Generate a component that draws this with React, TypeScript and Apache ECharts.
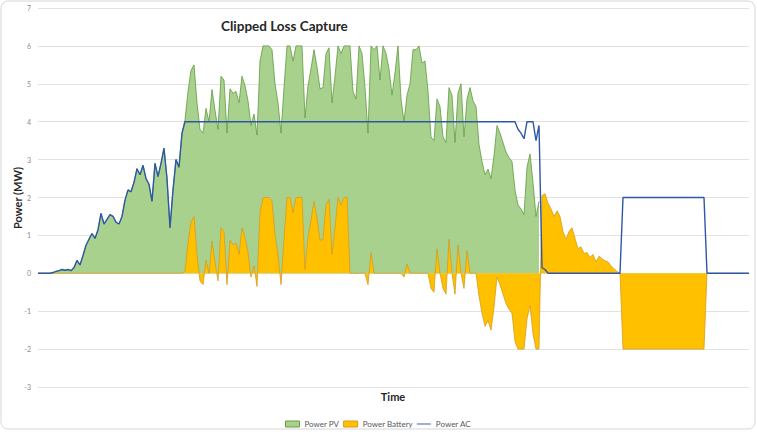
import { useEffect, useRef } from 'react';
import * as echarts from 'echarts';

// Power PV (MW), one sample per time step
const pvPower: (number | null)[] = [
  0, 0, 0, 0, 0, 0.02, 0.05, 0.07, 0.1, 0.08,
  0.1, 0.07, 0.15, 0.34, 0.22, 0.47, 0.74, 0.9, 1.05, 0.92,
  1.15, 1.58, 1.3, 1.42, 1.55, 1.5, 1.35, 1.3, 1.5, 1.93,
  2.2, 2.15, 2.4, 2.76, 2.6, 2.85, 2.5, 2.35, 1.9, 2.9,
  2.55, 2.9, 3.3, 2.5, 1.2, 2.2, 3.0, 2.8, 3.7, 4.05,
  4.8, 5.35, 5.5, 4.5, 3.8, 3.7, 4.35, 4.0, 4.85, 4.3,
  3.8, 5.2, 5.1, 3.7, 4.87, 4.75, 4.8, 4.5, 5.2, 4.95,
  4.55, 3.9, 4.2, 3.65, 5.6, 6, 6, 6, 5.9, 5.0,
  4.5, 3.7, 4.9, 6, 6, 5.6, 6, 6, 6, 4.1,
  4.95, 5.4, 5.9, 5.45, 4.87, 4.9, 5.8, 5.95, 4.5, 5.2,
  6, 5.8, 6, 6, 6, 4.8, 4.6, 6, 5.8, 4.9,
  3.7, 6, 5.9, 6, 5.1, 6, 5.8, 5.4, 4.7, 5.3,
  6, 4.6, 4.0, 4.7, 5.0, 5.9, 5.9, 6, 5.55, 5.6,
  4.8, 3.6, 3.5, 4.6, 4.4, 3.6, 3.45, 4.9, 4.7, 3.45,
  4.75, 5.0, 3.6, 4.6, 4.9, 4.55, 4.4, 3.4, 2.95, 2.6,
  2.75, 2.5, 3.1, 3.9, 3.7, 3.45, 3.2, 3.05, 2.95, 2.2,
  1.8, 1.7, 1.55, 2.8, 3.15, 2.4, 1.5, 1.9, null, null,
  null, null, null, null, null, null, null, null, null, null,
  null, null, null, null, null, null, null, null, null, null,
  null, null, null, null, null, null, null, null, null, null,
  null, null, null, null, null, null, null, null, null, null,
  null, null, null, null, null, null, null, null, null, null,
  null, null, null, null, null, null, null, null, null, null,
  null, null, null, null, null, null, null, null,
];

// Power Battery (MW)
const batteryPower: number[] = [
  0, 0, 0, 0, 0, 0, 0, 0, 0, 0,
  0, 0, 0, 0, 0, 0, 0, 0, 0, 0,
  0, 0, 0, 0, 0, 0, 0, 0, 0, 0,
  0, 0, 0, 0, 0, 0, 0, 0, 0, 0,
  0, 0, 0, 0, 0, 0, 0, 0, 0, 0.05,
  0.8, 1.35, 1.5, 0.5, -0.2, -0.3, 0.35, 0, 0.85, 0.3,
  -0.2, 1.2, 1.1, -0.3, 0.87, 0.75, 0.8, 0.5, 1.2, 0.95,
  0.55, -0.1, 0.2, -0.35, 1.6, 2, 2, 2, 1.9, 1.0,
  0.5, -0.3, 0.9, 2, 2, 1.6, 2, 2, 2, 0.1,
  0.95, 1.4, 1.9, 1.45, 0.87, 0.9, 1.8, 1.95, 0.5, 1.2,
  2, 1.8, 2, 2, 0, 0, 0, 0, 0, 0,
  -0.3, 0.55, 0, 0, 0, 0, 0, 0, 0, 0,
  0, 0, -0.1, 0.25, 0, 0, 0, 0, 0, 0,
  0, -0.4, -0.5, 0.65, 0, -0.4, -0.55, 0.9, 0, -0.55,
  0.75, 0, -0.4, 0.6, 0, 0, 0, -0.6, -1.05, -1.4,
  -1.25, -1.5, -0.9, -0.1, -0.3, -0.55, -0.8, -0.95, -1.05, -1.8,
  -2, -2, -2, -1.2, -0.85, -1.6, -2, -2, 2.05, 2.1,
  1.85, 1.7, 1.5, 1.65, 1.5, 1.1, 0.9, 1.1, 1.2, 0.92,
  0.65, 0.7, 0.52, 0.55, 0.42, 0.5, 0.3, 0.45, 0.38, 0.33,
  0.3, 0.2, 0.12, 0.05, 0, -2, -2, -2, -2, -2,
  -2, -2, -2, -2, -2, -2, -2, -2, -2, -2,
  -2, -2, -2, -2, -2, -2, -2, -2, -2, -2,
  -2, -2, -2, 0, 0, 0, 0, 0, 0, 0,
  0, 0, 0, 0, 0, 0, 0, 0,
];

// Power AC (MW)
const acPower: number[] = [
  0, 0, 0, 0, 0, 0.02, 0.05, 0.07, 0.1, 0.08,
  0.1, 0.07, 0.15, 0.34, 0.22, 0.47, 0.74, 0.9, 1.05, 0.92,
  1.15, 1.58, 1.3, 1.42, 1.55, 1.5, 1.35, 1.3, 1.5, 1.93,
  2.2, 2.15, 2.4, 2.76, 2.6, 2.85, 2.5, 2.35, 1.9, 2.9,
  2.55, 2.9, 3.3, 2.5, 1.2, 2.2, 3.0, 2.8, 3.7, 4,
  4, 4, 4, 4, 4, 4, 4, 4, 4, 4,
  4, 4, 4, 4, 4, 4, 4, 4, 4, 4,
  4, 4, 4, 4, 4, 4, 4, 4, 4, 4,
  4, 4, 4, 4, 4, 4, 4, 4, 4, 4,
  4, 4, 4, 4, 4, 4, 4, 4, 4, 4,
  4, 4, 4, 4, 4, 4, 4, 4, 4, 4,
  4, 4, 4, 4, 4, 4, 4, 4, 4, 4,
  4, 4, 4, 4, 4, 4, 4, 4, 4, 4,
  4, 4, 4, 4, 4, 4, 4, 4, 4, 4,
  4, 4, 4, 4, 4, 4, 4, 4, 4, 4,
  4, 4, 4, 4, 4, 4, 4, 4, 4, 4,
  3.8, 3.7, 3.55, 4, 4, 4, 3.5, 3.9, 0.15, 0.1,
  0, 0, 0, 0, 0, 0, 0, 0, 0, 0,
  0, 0, 0, 0, 0, 0, 0, 0, 0, 0,
  0, 0, 0, 0, 0, 2, 2, 2, 2, 2,
  2, 2, 2, 2, 2, 2, 2, 2, 2, 2,
  2, 2, 2, 2, 2, 2, 2, 2, 2, 2,
  2, 2, 2, 0, 0, 0, 0, 0, 0, 0,
  0, 0, 0, 0, 0, 0, 0, 0,
];

const timeSteps = pvPower.map((_, i) => String(i));

const seriesNames = ['Power PV', 'Power Battery', 'Power AC'];
const chartTitle = 'Clipped Loss Capture';
const yAxisTitle = 'Power (MW)';
const xAxisTitle = 'Time';

const FONT = 'Lato, "Open Sans", "DejaVu Sans", sans-serif';

export default function App() {
  const ref = useRef<HTMLDivElement>(null);

  useEffect(() => {
    document.body.style.margin = '0';
    const chart = echarts.init(ref.current!, null, { renderer: 'svg' });
    chart.setOption({
      animation: false,
      backgroundColor: '#ffffff',
      grid: { left: 38, right: 8, top: 8, bottom: 45, containLabel: false },
      xAxis: {
        type: 'category',
        data: timeSteps,
        boundaryGap: false,
        axisLine: { show: false },
        axisTick: { show: false },
        axisLabel: { show: false },
        splitLine: { show: false },
      },
      yAxis: {
        type: 'value',
        min: -3,
        max: 7,
        interval: 1,
        axisLine: { show: false },
        axisTick: { show: false },
        axisLabel: { color: '#8c8c8c', fontSize: 7, margin: 7, fontFamily: FONT },
        splitLine: { lineStyle: { color: '#e2e2e2', width: 1 } },
      },
      legend: {
        left: 280,
        top: 415,
        itemWidth: 14,
        itemHeight: 6,
        itemGap: 4,
        selectedMode: false,
        textStyle: { color: '#595959', fontSize: 8, fontFamily: FONT },
        data: [
          { name: seriesNames[0], icon: 'rect', itemStyle: { color: '#A9D18E', borderColor: '#6a9c45', borderWidth: 1 } },
          { name: seriesNames[1], icon: 'rect', itemStyle: { color: '#FFC000', borderColor: '#d99a1c', borderWidth: 1 } },
          { name: seriesNames[2], icon: 'path://M0,0H30V2H0Z', itemStyle: { color: '#2E58A6', borderWidth: 0 } },
        ],
      },
      graphic: [
        {
          type: 'rect',
          z: -10,
          shape: { x: 1, y: 1, width: 754, height: 428, r: 7 },
          style: { fill: 'none', stroke: '#d6d6d6', lineWidth: 1 },
          silent: true,
        },
        {
          type: 'text',
          left: 221,
          top: 19,
          style: { text: chartTitle, font: `bold 13.5px ${FONT}`, fill: '#262626' },
          silent: true,
        },
        {
          type: 'text',
          x: 17,
          y: 198,
          rotation: Math.PI / 2,
          style: {
            text: yAxisTitle,
            font: `bold 11px ${FONT}`,
            fill: '#262626',
            align: 'center',
            verticalAlign: 'middle',
          },
          silent: true,
        },
        {
          type: 'text',
          x: 393,
          y: 396,
          style: {
            text: xAxisTitle,
            font: `bold 11px ${FONT}`,
            fill: '#262626',
            align: 'center',
            verticalAlign: 'middle',
          },
          silent: true,
        },
      ],
      series: [
        {
          name: seriesNames[0],
          type: 'line',
          data: pvPower,
          symbol: 'none',
          silent: true,
          z: 1,
          itemStyle: { color: '#A9D18E' },
          lineStyle: { color: '#5f9a3f', width: 0.8 },
          areaStyle: { color: '#A9D18E', opacity: 1 },
        },
        {
          name: seriesNames[1],
          type: 'line',
          data: batteryPower,
          symbol: 'none',
          silent: true,
          z: 2,
          itemStyle: { color: '#FFC000' },
          lineStyle: { color: '#d99a1c', width: 0.8 },
          areaStyle: { color: '#FFC000', opacity: 1 },
        },
        {
          name: seriesNames[2],
          type: 'line',
          data: acPower,
          symbol: 'none',
          silent: true,
          z: 3,
          itemStyle: { color: '#2E58A6' },
          lineStyle: { color: '#2E58A6', width: 1.4 },
        },
      ],
    });
    return () => chart.dispose();
  }, []);

  return <div ref={ref} style={{ width: 757, height: 432 }} />;
}
